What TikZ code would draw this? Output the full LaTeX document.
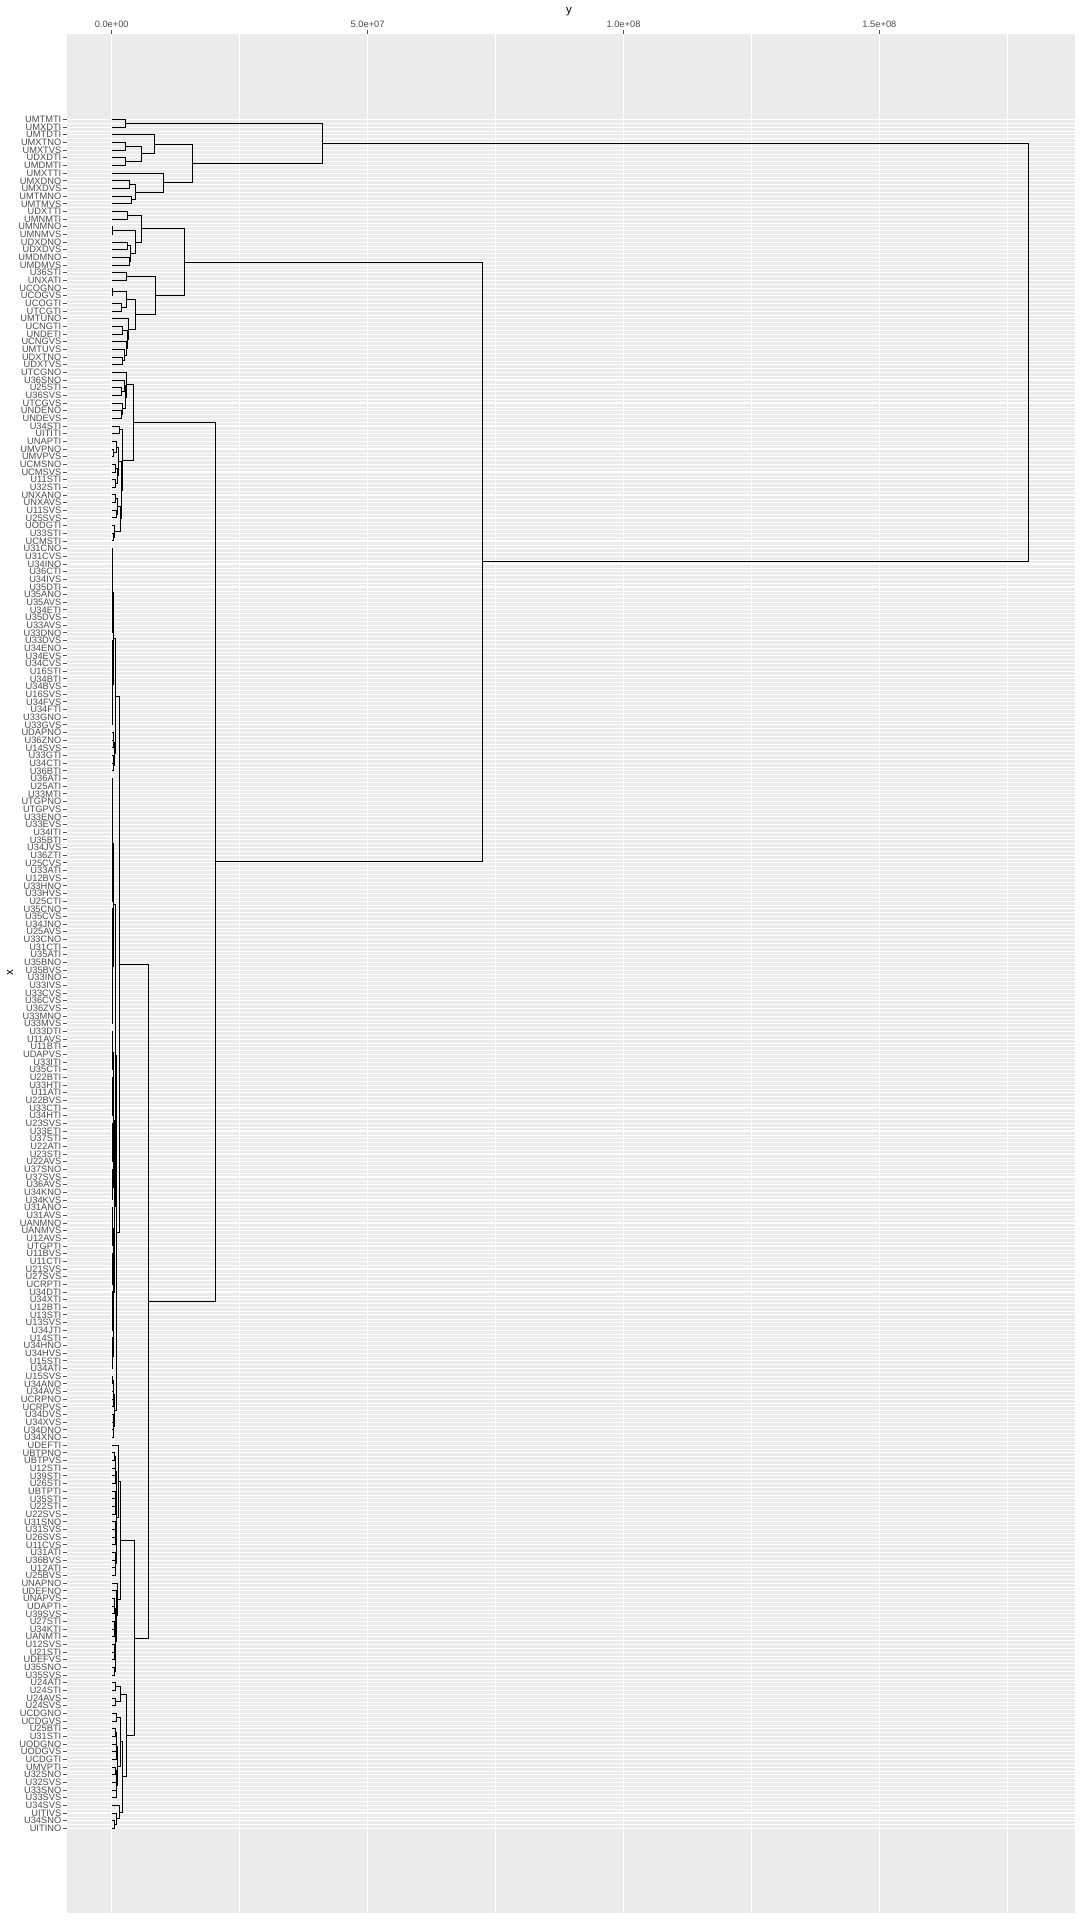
\documentclass[tikz,border=0pt]{standalone}
\usepackage{fontspec}
\setmainfont{Liberation Sans}
\usetikzlibrary{calc}
\definecolor{gthirty}{HTML}{4D4D4D}
\definecolor{panelgrey}{HTML}{EBEBEB}
\newcommand\mrg[4]{%
  \draw[tree] (#2) -- (#4,0 |- #2) -- (#4,0 |- #3) -- (#3);
  \coordinate (#1) at ($(#4,0 |- #2)!0.5!(#4,0 |- #3)$);%
}
\def\bal#1#2#3#4{%
  \begingroup
  \ifnum#2=#3\relax
    \coordinate (#1) at (l#2);%
  \else
    \pgfmathtruncatemacro\balm{floor((#2+#3)/2)}%
    \pgfmathtruncatemacro\baln{\balm+1}%
    \pgfmathsetmacro\balx{max(#4-0.45,112.2)}%
    \edef\balnext{\noexpand\bal{#1a}{#2}{\balm}{\balx}\noexpand\bal{#1b}{\baln}{#3}{\balx}}%
    \balnext
    \mrg{#1}{#1a}{#1b}{#4}%
  \fi
  \endgroup}
\begin{document}
\begin{tikzpicture}[x=1pt,y=-1pt,
  tree/.style={line width=1pt,black},
  gmaj/.style={white,line width=1.1pt},
  gmin/.style={white,line width=0.55pt},
  lab/.style={anchor=east,inner sep=0pt,text=gthirty,font=\fontsize{9.3}{9.3}\selectfont},
  tlab/.style={inner sep=0pt,text=gthirty,font=\fontsize{9.3}{9.3}\selectfont},
  tk/.style={gthirty,line width=0.9pt},
  ttl/.style={inner sep=0pt,font=\fontsize{11.5}{11.5}\selectfont}]
\useasboundingbox (0,0) rectangle (1080,1920);
\fill[white] (0,0) rectangle (1080,1920);
\fill[panelgrey] (67,34) rectangle (1075,1913);
% grid
\foreach \k in {0,1,2,3} {
  \draw[gmin] ({111.7+(\k+0.5)*255.9},34) -- ({111.7+(\k+0.5)*255.9},1913);
  \draw[gmaj] ({111.7+\k*255.9},34) -- ({111.7+\k*255.9},1913);
}
\foreach \i in {1,...,223} {
  \draw[gmin] (67,{119.5+(\i-0.5)*7.663}) -- (1075,{119.5+(\i-0.5)*7.663});
}
\foreach \i in {1,...,224} {
  \draw[gmaj] (67,{119.5+(\i-1)*7.663}) -- (1075,{119.5+(\i-1)*7.663});
}
% top axis
\foreach \k/\t in {0/0.0e+00,1/5.0e+07,2/1.0e+08,3/1.5e+08} {
  \draw[tk] ({111.7+\k*255.9},29.5) -- ({111.7+\k*255.9},34);
  \node[tlab] (xt\k) at ({111.7+\k*255.9},24.5) {\t};
}
\node[ttl] (ytitle) at (569,12) {y};
\node[ttl,rotate=90] (xtitle) at (10,973) {x};
% leaves
\foreach \t [count=\i] in {UMTMTI,UMXDTI,UMTDTI,UMXTNO,UMXTVS,UDXDTI,UMDMTI,UMXTTI,UMXDNO,UMXDVS,UMTMNO,UMTMVS,UDXTTI,UMNMTI,UMNMNO,UMNMVS,UDXDNO,UDXDVS,UMDMNO,UMDMVS,U36STI,UNXATI,UCOGNO,UCOGVS,UCOGTI,UTCGTI,UMTUNO,UCNGTI,UNDETI,UCNGVS,UMTUVS,UDXTNO,UDXTVS,UTCGNO,U36SNO,U25STI,U36SVS,UTCGVS,UNDENO,UNDEVS,U34STI,UITITI,UNAPTI,UMVPNO,UMVPVS,UCMSNO,UCMSVS,U11STI,U32STI,UNXANO,UNXAVS,U11SVS,U25SVS,UODGTI,U33STI,UCMSTI,U31CNO,U31CVS,U34INO,U36CTI,U34IVS,U35DTI,U35ANO,U35AVS,U34ETI,U35DVS,U33AVS,U33DNO,U33DVS,U34ENO,U34EVS,U34CVS,U16STI,U34BTI,U34BVS,U16SVS,U34FVS,U34FTI,U33GNO,U33GVS,UDAPNO,U36ZNO,U14SVS,U33GTI,U34CTI,U36BTI,U36ATI,U25ATI,U33MTI,UTGPNO,UTGPVS,U33ENO,U33EVS,U34ITI,U35BTI,U34JVS,U36ZTI,U25CVS,U33ATI,U12BVS,U33HNO,U33HVS,U25CTI,U35CNO,U35CVS,U34JNO,U25AVS,U33CNO,U31CTI,U35ATI,U35BNO,U35BVS,U33INO,U33IVS,U33CVS,U36CVS,U36ZVS,U33MNO,U33MVS,U33DTI,U11AVS,U11BTI,UDAPVS,U33ITI,U35CTI,U22BTI,U33HTI,U11ATI,U22BVS,U33CTI,U34HTI,U23SVS,U33ETI,U37STI,U22ATI,U23STI,U22AVS,U37SNO,U37SVS,U36AVS,U34KNO,U34KVS,U31ANO,U31AVS,UANMNO,UANMVS,U12AVS,UTGPTI,U11BVS,U11CTI,U21SVS,U27SVS,UCRPTI,U34DTI,U34XTI,U12BTI,U13STI,U13SVS,U34JTI,U14STI,U34HNO,U34HVS,U15STI,U34ATI,U15SVS,U34ANO,U34AVS,UCRPNO,UCRPVS,U34DVS,U34XVS,U34DNO,U34XNO,UDEFTI,UBTPNO,UBTPVS,U12STI,U39STI,U26STI,UBTPTI,U35STI,U22STI,U22SVS,U31SNO,U31SVS,U26SVS,U11CVS,U31ATI,U36BVS,U12ATI,U25BVS,UNAPNO,UDEFNO,UNAPVS,UDAPTI,U39SVS,U27STI,U34KTI,UANMTI,U12SVS,U21STI,UDEFVS,U35SNO,U35SVS,U24ATI,U24STI,U24AVS,U24SVS,UCDGNO,UCDGVS,U25BTI,U31STI,UODGNO,UODGVS,UCDGTI,UMVPTI,U32SNO,U32SVS,U33SNO,U33SVS,U34SVS,UITIVS,U34SNO,UITINO} {
  \pgfmathsetmacro\yy{119.5+(\i-1)*7.663}
  \coordinate (l\i) at (111.7,\yy);
  \node[lab] (t\i) at (61.5,\yy) {\t};
  \draw[tk] (62.5,\yy) -- (67,\yy);
}
% ---- top cluster
\mrg{a12}{l1}{l2}{125}
\mrg{a45}{l4}{l5}{125}
\mrg{a67}{l6}{l7}{125}
\mrg{aD}{a45}{a67}{141.7}
\mrg{aCa}{l3}{aD}{154}
\mrg{a910}{l9}{l10}{129}
\mrg{a1112}{l11}{l12}{131.7}
\mrg{aE}{a910}{a1112}{135}
\mrg{aCb}{l8}{aE}{163}
\mrg{aB}{aCa}{aCb}{192}
\mrg{aA}{a12}{aB}{322}
% ---- cluster P
\mrg{p1314}{l13}{l14}{127.3}
\mrg{p1516}{l15}{l16}{112.5}
\mrg{p1718}{l17}{l18}{127.3}
\mrg{p1920}{l19}{l20}{129.3}
\mrg{pG}{p1718}{p1920}{130.3}
\mrg{pH}{p1516}{pG}{135}
\mrg{pF}{p1314}{pH}{141.7}
\mrg{p2122}{l21}{l22}{126}
\mrg{p2324}{l23}{l24}{112.7}
\mrg{p2526}{l25}{l26}{121.7}
\mrg{pJ}{p2324}{p2526}{126.7}
\mrg{p2829}{l28}{l29}{122.7}
\mrg{p3233}{l32}{l33}{122.7}
\mrg{pMb}{l31}{p3233}{124}
\mrg{pMc}{l30}{pMb}{126}
\mrg{pMd}{p2829}{pMc}{127.7}
\mrg{pL}{l27}{pMd}{128.3}
\mrg{pK}{pJ}{pL}{135}
\mrg{pN}{p2122}{pK}{155}
\mrg{pP}{pF}{pN}{184}
% ---- cluster S
\mrg{s3637}{l36}{l37}{121.7}
\mrg{sUb}{l35}{s3637}{124}
\mrg{s3940}{l39}{l40}{121.7}
\mrg{sUc}{l38}{s3940}{122.7}
\mrg{sUd}{sUb}{sUc}{125.5}
\mrg{sU}{l34}{sUd}{126.7}
\mrg{s4142}{l41}{l42}{119}
\mrg{s4445}{l44}{l45}{113.5}
\mrg{sWa}{l43}{s4445}{116}
\mrg{s4647}{l46}{l47}{115}
\mrg{s4849}{l48}{l49}{115.5}
\mrg{sWb}{s4647}{s4849}{117}
\mrg{sWc}{sWa}{sWb}{118.3}
\mrg{s5051}{l50}{l51}{115.5}
\mrg{s5253}{l52}{l53}{116}
\mrg{sWd}{s5051}{s5253}{117.5}
\mrg{s5556}{l55}{l56}{113}
\mrg{sWf}{l54}{s5556}{114.5}
\mrg{sWe}{sWd}{sWf}{120.7}
\mrg{sW}{sWc}{sWe}{121.5}
\mrg{sV}{s4142}{sW}{122.7}
\mrg{sS}{sU}{sV}{133.3}
% ---- cluster Y
\bal{q1}{57}{80}{113.3}
\bal{q2}{81}{86}{114}
\mrg{yYa}{q1}{q2}{115}
\bal{q3}{87}{119}{113.3}
\bal{q4}{120}{164}{114.2}
\mrg{yYb}{q3}{q4}{115.2}
\bal{q5}{165}{173}{114}
\mrg{yYc}{yYb}{q5}{116.5}
\mrg{yY}{yYa}{yYc}{119.3}
% ---- cluster Z
\bal{q6}{175}{191}{116.5}
\mrg{zA}{l174}{q6}{118.3}
\bal{q7}{194}{204}{115.5}
\mrg{zX}{l193}{q7}{116.5}
\mrg{zB}{l192}{zX}{117.5}
\mrg{zC}{zA}{zB}{120}
\mrg{zaa}{l205}{l206}{115}
\mrg{zab}{l207}{l208}{115}
\mrg{zD}{zaa}{zab}{120}
\mrg{zba}{l209}{l210}{116.7}
\bal{q8}{211}{220}{117}
\mrg{zE}{zba}{q8}{120.7}
\mrg{zbb}{l223}{l224}{114.5}
\mrg{zbc}{l222}{zbb}{116.7}
\mrg{zF}{l221}{zbc}{119}
\mrg{zG}{zE}{zF}{122.3}
\mrg{zH}{zD}{zG}{126.7}
\mrg{zZ}{zC}{zH}{134}
\mrg{tT}{yY}{zZ}{148}
\mrg{rR}{sS}{tT}{215}
\mrg{qQ}{pP}{rR}{482}
\mrg{root}{aA}{qQ}{1028}
\end{tikzpicture}
\end{document}
